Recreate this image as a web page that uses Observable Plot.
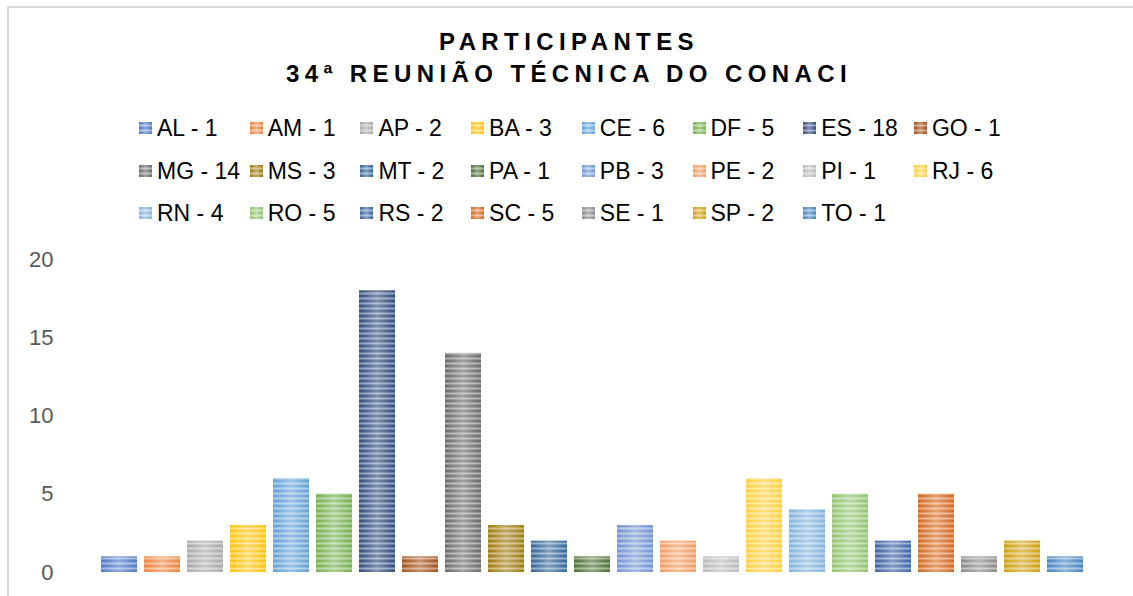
<!DOCTYPE html>
<html>
<head>
<meta charset="utf-8">
<script src="https://cdn.jsdelivr.net/npm/d3@7"></script>
<script src="https://cdn.jsdelivr.net/npm/@observablehq/plot@0.6"></script>
<style>
  html, body { margin: 0; padding: 0; background: #fff; }
  #wrap { position: relative; width: 1133px; height: 596px; overflow: hidden; font-family: "Liberation Sans", Arial, sans-serif; }
  #frame { position: absolute; left: 7px; top: 6px; width: 1200px; height: 700px; border: 2px solid #d9d9d9; box-sizing: border-box; }
  .title { position: absolute; left: 0; width: 1133px; text-align: center; font-weight: bold; font-size: 24px; letter-spacing: 5.4px; padding-left: 5px; box-sizing: border-box; line-height: 28px; color: #000; }
  .leg { position: absolute; height: 30px; line-height: 30px; font-size: 23px; color: #000; white-space: nowrap; }
  .leg svg { position: absolute; left: 0; top: 9px; }
  .leg span { position: absolute; left: 18px; top: 0; }
  #chart { position: absolute; left: 0; top: 240px; }
</style>
</head>
<body>
<div id="wrap">
  <div id="frame"></div>
  <div class="title" style="top:28px">PARTICIPANTES</div>
  <div class="title" style="top:60px">34ª REUNIÃO TÉCNICA DO CONACI</div>
  <div id="legend"></div>
  <div id="chart"></div>
</div>
<svg width="0" height="0" style="position:absolute" id="defs-holder"><defs id="defs"></defs></svg>
<script>
const states = ["AL","AM","AP","BA","CE","DF","ES","GO","MG","MS","MT","PA","PB","PE","PI","RJ","RN","RO","RS","SC","SE","SP","TO"];
const values = [1,1,2,3,6,5,18,1,14,3,2,1,3,2,1,6,4,5,2,5,1,2,1];
const colors = ["#4472C4","#ED7D31","#A5A5A5","#FFC000","#5B9BD5","#70AD47","#264478","#9E480E","#636363","#997300","#255E91","#43682B","#698ED0","#F1975A","#B7B7B7","#FFCD33","#7CAFDD","#8CC168","#335AA1","#D26012","#848484","#CC9A00","#3A7DC0"];
const yTicks = [0,5,10,15,20];

// stripe patterns
const defs = d3.select("#defs");
colors.forEach((c, i) => {
  const light = d3.interpolateRgb(c, "#ffffff")(0.45);
  const p = defs.append("pattern").attr("id", "p" + i).attr("patternUnits", "userSpaceOnUse")
    .attr("width", 10).attr("height", 5);
  p.append("rect").attr("width", 10).attr("height", 5).attr("fill", c);
  p.append("rect").attr("y", 2.5).attr("width", 10).attr("height", 2).attr("fill", light);
});
const g = defs.append("linearGradient").attr("id", "sheen").attr("x1", 0).attr("x2", 1).attr("y1", 0).attr("y2", 0);
g.append("stop").attr("offset", "0").attr("stop-color", "#fff").attr("stop-opacity", 0.05);
g.append("stop").attr("offset", "0.5").attr("stop-color", "#fff").attr("stop-opacity", 0.4);
g.append("stop").attr("offset", "1").attr("stop-color", "#fff").attr("stop-opacity", 0.05);

// legend
const legend = document.getElementById("legend");
const rowsY = [113, 156, 198];
states.forEach((s, i) => {
  const row = Math.floor(i / 8), col = i % 8;
  const d = document.createElement("div");
  d.className = "leg";
  d.style.left = (139 + col * 110.7) + "px";
  d.style.top = rowsY[row] + "px";
  d.innerHTML = `<svg width="13" height="12"><rect width="13" height="12" fill="url(#p${i})"/><rect width="13" height="12" fill="url(#sheen)"/></svg><span>${s} - ${values[i]}</span>`;
  legend.appendChild(d);
});

const data = states.map((s, i) => ({state: s, value: values[i], i}));
const chart = Plot.plot({
  width: 1133,
  height: 356,
  marginLeft: 94,
  marginRight: 42,
  marginTop: 19,
  marginBottom: 24,
  style: {fontSize: "22px", fontFamily: "'Liberation Sans', Arial, sans-serif", color: "#595959", background: "transparent", overflow: "visible"},
  x: {domain: states, padding: 0.16, axis: null},
  y: {domain: [0, 20], ticks: yTicks, tickSize: 0, tickPadding: 41, label: null},
  color: {type: "identity"},
  marks: [
    Plot.barY(data, {x: "state", y: "value", fill: d => `url(#p${d.i})`}),
    Plot.barY(data, {x: "state", y: "value", fill: "url(#sheen)"})
  ]
});
document.getElementById("chart").appendChild(chart);
</script>
</body>
</html>
